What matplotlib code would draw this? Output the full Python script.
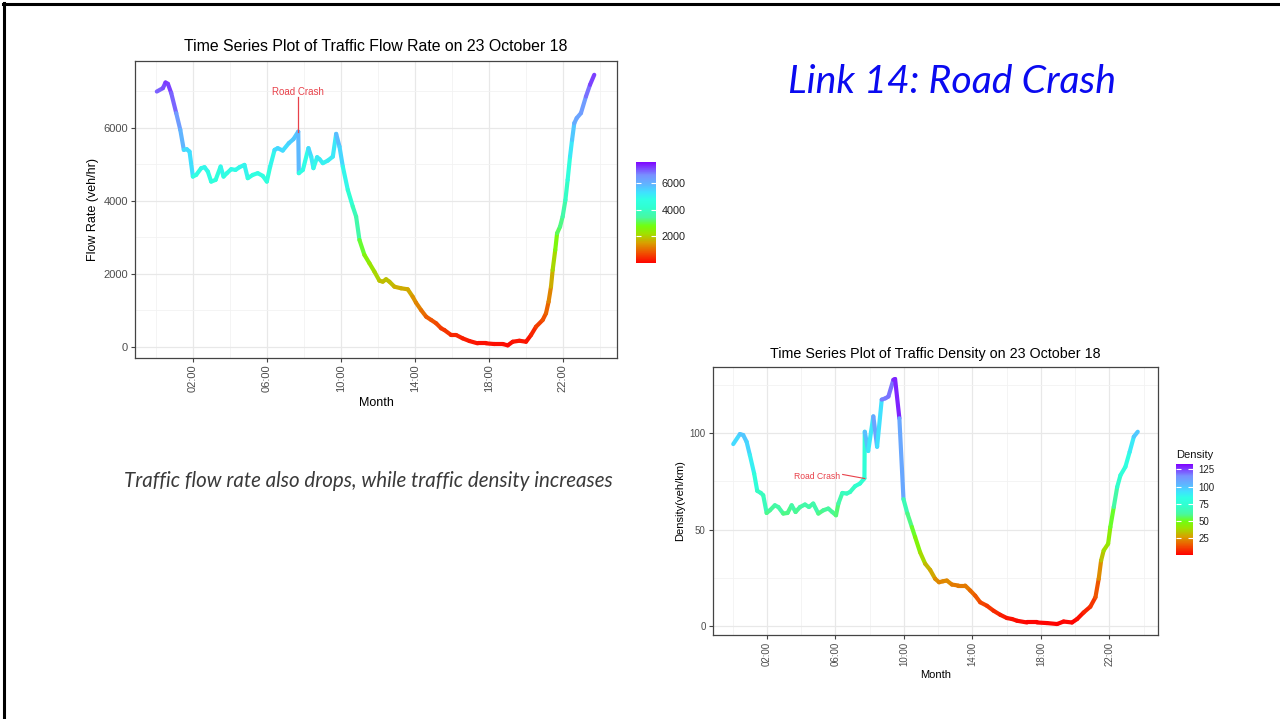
import numpy as np
import matplotlib
matplotlib.use('Agg')
import matplotlib.pyplot as plt
from matplotlib.collections import LineCollection
from matplotlib.colors import LinearSegmentedColormap, Normalize
from matplotlib.lines import Line2D
import matplotlib.cm as cm

# ---------------- data ----------------
flow_hours = [0.04, 0.37, 0.51, 0.64, 0.82, 1.09, 1.31, 1.50, 1.66, 1.81, 1.99, 2.17, 2.44, 2.62,
              2.80, 2.98, 3.22, 3.49, 3.65, 3.83, 4.06, 4.30, 4.51, 4.78, 4.96, 5.23, 5.50, 5.77,
              5.99, 6.17, 6.41, 6.58, 6.85, 7.18, 7.43, 7.69, 7.72, 7.94, 8.24, 8.39, 8.51, 8.71,
              8.84, 9.02, 9.29, 9.56, 9.74, 9.92, 10.10, 10.37, 10.64, 10.82, 11.00, 11.27, 11.54,
              11.81, 12.08, 12.26, 12.44, 12.62, 12.89, 13.25, 13.61, 13.88, 14.06, 14.34, 14.61,
              14.88, 15.15, 15.42, 15.59, 15.96, 16.23, 16.58, 16.95, 17.39, 17.85, 18.30, 18.75,
              19.02, 19.29, 19.65, 20.01, 20.28, 20.55, 20.91, 21.09, 21.23, 21.36, 21.45, 21.59,
              21.69, 21.85, 21.99, 22.14, 22.26, 22.39, 22.50, 22.62, 22.75, 22.98, 23.25, 23.47,
              23.70]
flow_values = [6986, 7079, 7233, 7197, 6942, 6395, 5937, 5389, 5408, 5342, 4658, 4704, 4888, 4915,
               4795, 4521, 4567, 4932, 4658, 4751, 4860, 4841, 4915, 4978, 4614, 4704, 4751, 4677,
               4521, 4932, 5389, 5436, 5370, 5573, 5682, 5890, 4751, 4841, 5436, 5205, 4888, 5189,
               5134, 5025, 5096, 5205, 5827, 5479, 4932, 4293, 3836, 3562, 2923, 2512, 2285,
               2055, 1808, 1781, 1847, 1781, 1644, 1600, 1573, 1370, 1205, 1000, 822,
               732, 641, 504, 458, 321, 321, 230, 156, 93, 93, 74, 74,
               38, 137, 164, 137, 321, 548, 732, 915, 1233, 1644, 2101, 2649,
               3107, 3288, 3562, 4019, 4567, 5205, 5663, 6121, 6258, 6395, 6849, 7170,
               7444]

density_hours = [0.04, 0.43, 0.62, 0.82, 1.01, 1.26, 1.44, 1.65, 1.79, 1.99, 2.18, 2.47, 2.67, 2.96,
                 3.21, 3.45, 3.68, 3.94, 4.23, 4.46, 4.71, 5.01, 5.30, 5.59, 5.82, 6.04, 6.18, 6.41,
                 6.67, 6.86, 7.15, 7.44, 7.70, 7.72, 7.92, 8.22, 8.44, 8.71, 8.93, 9.10, 9.39, 9.49,
                 9.74, 9.98, 10.21, 10.47, 10.66, 10.95, 11.25, 11.54, 11.83, 12.06, 12.28, 12.51,
                 12.81, 13.19, 13.58, 13.88, 14.17, 14.46, 14.85, 15.24, 15.63, 16.02, 16.32, 16.61,
                 17.19, 17.78, 18.36, 18.95, 19.33, 19.82, 20.12, 20.50, 20.89, 21.19, 21.38, 21.52,
                 21.67, 21.93, 22.06, 22.26, 22.46, 22.65, 22.94, 23.19, 23.43, 23.66]
density_values = [94.4, 99.6, 99.1, 95.6, 88.7, 79.1, 70.1, 69.0, 67.8, 58.6, 60.0, 62.6, 61.7, 58.3,
                  58.6, 62.6, 59.1, 61.7, 63.0, 61.7, 63.5, 58.3, 60.0, 60.9, 59.1, 57.4, 63.5, 69.0,
                  68.7, 69.5, 72.5, 73.9, 76.6, 100.8, 90.8, 108.8, 93.0, 117.5, 118.2, 119.1, 127.8, 128.2,
                  107.8, 65.8, 58.3, 51.3, 46.1, 38.2, 32.2, 29.0, 24.4, 22.6, 23.1, 23.5,
                  21.4, 20.9, 20.9, 18.3, 15.6, 12.2, 10.4, 7.8, 5.7, 4.0, 3.5, 2.6,
                  1.7, 1.7, 1.4, 0.9, 2.2, 1.7, 3.5, 6.9, 9.9, 14.8, 24.4, 33.9,
                  39.1, 42.6, 51.3, 61.7, 72.1, 78.2, 82.6, 90.4, 98.2, 100.8]

time_ticks = [2, 6, 10, 14, 18, 22]
time_tick_labels = ['02:00', '06:00', '10:00', '14:00', '18:00', '22:00']
time_minor = [0, 4, 8, 12, 16, 20, 24]
flow_ticks = [0, 2000, 4000, 6000]
flow_minor = [1000, 3000, 5000, 7000]
density_ticks = [0, 50, 100]
density_minor = [25, 75, 125]
flow_legend_ticks = [2000, 4000, 6000]
density_legend_ticks = [25, 50, 75, 100, 125]

# ---------------- style ----------------
FONT = ['Liberation Sans', 'DejaVu Sans']
plt.rcParams['font.family'] = FONT
cmap = LinearSegmentedColormap.from_list('rb', [
    (0.00, '#FF0000'), (0.10, '#F05000'), (0.20, '#D8A000'), (0.29, '#A0E000'),
    (0.37, '#70FF10'), (0.45, '#48F8A0'), (0.55, '#30FFD0'), (0.63, '#30FFE4'),
    (0.70, '#40E0FF'), (0.78, '#60B4FF'), (0.87, '#7890FF'), (1.00, '#8000FF')])
RED = '#E8414A'

fig = plt.figure(figsize=(12.8, 7.19), dpi=100)
fig.patch.set_facecolor('white')


def style_axes(ax, xlim, ylim, yticks, yminor, tick_fs):
    ax.set_xlim(*xlim)
    ax.set_ylim(*ylim)
    ax.set_xticks(time_ticks, labels=time_tick_labels, rotation=90)
    ax.set_xticks(time_minor, minor=True)
    ax.set_yticks(yticks)
    ax.set_yticks(yminor, minor=True)
    ax.grid(which='major', color='#E8E8E8', lw=0.9)
    ax.grid(which='minor', color='#F2F2F2', lw=0.6)
    ax.set_axisbelow(True)
    for s in ax.spines.values():
        s.set_color('#444444')
        s.set_linewidth(0.9)
    ax.tick_params(which='major', length=3, width=0.8, color='#444444',
                   labelcolor='#4D4D4D', labelsize=tick_fs, pad=2)
    ax.tick_params(which='minor', length=0)


def colored_line(ax, x, y, norm, lw):
    x = np.asarray(x, float)
    y = np.asarray(y, float)
    pts = np.column_stack([x, y]).reshape(-1, 1, 2)
    segs = np.concatenate([pts[:-1], pts[1:]], axis=1)
    lc = LineCollection(segs, colors=cmap(norm(y[:-1])), linewidths=lw,
                        capstyle='round', joinstyle='round', zorder=3)
    ax.add_collection(lc)


def add_colorbar(rect, norm, ticks, fs, title=None):
    cax = fig.add_axes(rect)
    cb = fig.colorbar(cm.ScalarMappable(norm=norm, cmap=cmap), cax=cax)
    cb.outline.set_visible(False)
    cb.set_ticks(ticks)
    cax.tick_params(which='both', direction='in', color='white', length=3.5, width=0.8,
                    left=True, right=True, labelsize=fs, labelcolor='#222222', pad=4)
    cax.minorticks_off()
    if title:
        cax.set_title(title, loc='left', fontsize=fs + 1, pad=4, color='#111111')
    return cb


# ---------------- top chart: flow ----------------
ax1 = fig.add_axes([135 / 1280, 1 - 357.7 / 719, 482 / 1280, 297 / 719])
style_axes(ax1, (-1.14, 24.93), (-300, 7830), flow_ticks, flow_minor, 8)
norm1 = Normalize(vmin=-60, vmax=7650)
colored_line(ax1, flow_hours, flow_values, norm1, 3.0)
ax1.set_title('Time Series Plot of Traffic Flow Rate on 23 October 18', fontsize=11.4, pad=7)
ax1.set_xlabel('Month', fontsize=9, labelpad=3)
ax1.set_ylabel('Flow Rate (veh/hr)', fontsize=9, labelpad=3)
crash_hour_flow = 7.70
ax1.plot([crash_hour_flow, crash_hour_flow], [6850, 5890], color=RED, lw=0.9, zorder=4)
ax1.text(crash_hour_flow - 0.02, 6970, 'Road Crash', color=RED, fontsize=7, ha='center', va='center')
add_colorbar([636 / 1280, 1 - 263.3 / 719, 20 / 1280, 101.6 / 719], norm1, flow_legend_ticks, 7.8)

# ---------------- bottom chart: density ----------------
ax2 = fig.add_axes([712.7 / 1280, 1 - 635 / 719, 445.6 / 1280, 268.3 / 719])
style_axes(ax2, (-1.16, 24.86), (-4.8, 134.6), density_ticks, density_minor, 7)
norm2 = Normalize(vmin=0.8, vmax=132.7)
colored_line(ax2, density_hours, density_values, norm2, 3.0)
ax2.set_title('Time Series Plot of Traffic Density on 23 October 18', fontsize=10.3, pad=6)
ax2.set_xlabel('Month', fontsize=8, labelpad=3)
ax2.set_ylabel('Density(veh/km)', fontsize=8, labelpad=3)
ax2.plot([6.43, 7.72], [78.6, 76.5], color=RED, lw=0.8, zorder=4)
ax2.text(4.92, 77.7, 'Road Crash', color=RED, fontsize=6.2, ha='center', va='center')
add_colorbar([1176 / 1280, 1 - 555 / 719, 17 / 1280, 91 / 719], norm2, density_legend_ticks, 7,
             title='Density')

# ---------------- slide texts ----------------
fig.text(952.5 / 1280, 1 - 82 / 719, 'Link 14: Road Crash', color='#0A0AF0', style='italic',
         family=['Lato', 'DejaVu Sans'], fontsize=28.3, ha='center', va='center')
fig.text(368.5 / 1280, 1 - 481 / 719, 'Traffic flow rate also drops, while traffic density increases',
         color='#3A3A3A', style='italic', family=['Lato', 'DejaVu Sans'], fontsize=14.8,
         ha='center', va='center')

# slide border
fig.add_artist(Line2D([3 / 1280, 1], [1 - 4.3 / 719] * 2, transform=fig.transFigure,
                      color='black', lw=2.2))
fig.add_artist(Line2D([4.3 / 1280] * 2, [0, 1 - 3 / 719], transform=fig.transFigure,
                      color='black', lw=2.2))

fig.savefig('out.png', dpi=100, facecolor='white')
